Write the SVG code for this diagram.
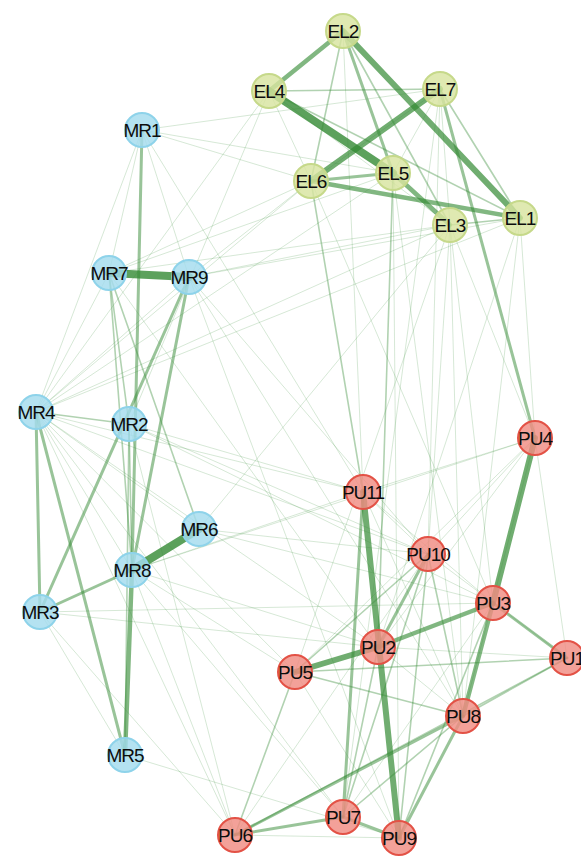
<svg xmlns="http://www.w3.org/2000/svg" width="581" height="858" viewBox="0 0 581 858">
  <style>
    .bg { fill: #ffffff; }
    #edges line { stroke: #338a33; stroke-linecap: round; fill: none; }
    .w1 { stroke-width: 1; stroke-opacity: 0.2; }
    .w2 { stroke-width: 1.6; stroke-opacity: 0.38; }
    .w3 { stroke-width: 3; stroke-opacity: 0.5; }
    .w4 { stroke-width: 4.5; stroke-opacity: 0.62; }
    .w5 { stroke-width: 6; stroke-opacity: 0.7; }
    .w6 { stroke-width: 8; stroke-opacity: 0.8; }
    .node circle { stroke-width: 2; fill-opacity: 0.82; }
    .mr circle { fill: #a4dcee; stroke: #8ed3ea; }
    .el circle { fill: #d8e4a0; stroke: #c6d98a; }
    .pu circle { fill: #f08c82; stroke: #e35246; }
    .node text { font-family: "Liberation Sans", Arial, sans-serif; font-size: 19px; letter-spacing: -1px; fill: #0d0d0d; text-anchor: middle; }
  </style>
  <rect class="bg" x="0" y="0" width="581" height="858"/>

  <g id="edges">
    <!-- faint cross-group links -->
    <line class="w1" x1="142" y1="130" x2="440" y2="89"/>
    <line class="w1" x1="142" y1="130" x2="311" y2="181"/>
    <line class="w1" x1="142" y1="130" x2="393" y2="173"/>
    <line class="w1" x1="142" y1="130" x2="363" y2="492"/>
    <line class="w1" x1="36" y1="412" x2="269" y2="91"/>
    <line class="w1" x1="36" y1="412" x2="311" y2="181"/>
    <line class="w1" x1="36" y1="412" x2="393" y2="173"/>
    <line class="w1" x1="36" y1="412" x2="450" y2="225"/>
    <line class="w1" x1="36" y1="412" x2="520" y2="218"/>
    <line class="w1" x1="36" y1="412" x2="363" y2="492"/>
    <line class="w1" x1="36" y1="412" x2="428" y2="554"/>
    <line class="w1" x1="36" y1="412" x2="378" y2="647"/>
    <line class="w1" x1="36" y1="412" x2="295" y2="672"/>
    <line class="w1" x1="36" y1="412" x2="235" y2="835"/>
    <line class="w1" x1="36" y1="412" x2="343" y2="817"/>
    <line class="w1" x1="36" y1="412" x2="199" y2="529"/>
    <line class="w1" x1="36" y1="412" x2="132" y2="570"/>
    <line class="w1" x1="36" y1="412" x2="109" y2="273"/>
    <line class="w1" x1="36" y1="412" x2="189" y2="277"/>
    <line class="w1" x1="36" y1="412" x2="142" y2="130"/>
    <line class="w1" x1="109" y1="273" x2="311" y2="181"/>
    <line class="w1" x1="109" y1="273" x2="393" y2="173"/>
    <line class="w1" x1="109" y1="273" x2="450" y2="225"/>
    <line class="w1" x1="109" y1="273" x2="378" y2="647"/>
    <line class="w1" x1="189" y1="277" x2="450" y2="225"/>
    <line class="w1" x1="189" y1="277" x2="520" y2="218"/>
    <line class="w1" x1="189" y1="277" x2="311" y2="181"/>
    <line class="w1" x1="189" y1="277" x2="463" y2="716"/>
    <line class="w1" x1="189" y1="277" x2="399" y2="838"/>
    <line class="w1" x1="189" y1="277" x2="428" y2="554"/>
    <line class="w1" x1="129" y1="424" x2="363" y2="492"/>
    <line class="w1" x1="129" y1="424" x2="428" y2="554"/>
    <line class="w1" x1="129" y1="424" x2="493" y2="603"/>
    <line class="w1" x1="129" y1="424" x2="269" y2="91"/>
    <line class="w1" x1="129" y1="424" x2="235" y2="835"/>
    <line class="w1" x1="199" y1="529" x2="428" y2="554"/>
    <line class="w1" x1="199" y1="529" x2="493" y2="603"/>
    <line class="w1" x1="199" y1="529" x2="450" y2="225"/>
    <line class="w1" x1="132" y1="570" x2="363" y2="492"/>
    <line class="w1" x1="132" y1="570" x2="378" y2="647"/>
    <line class="w1" x1="132" y1="570" x2="295" y2="672"/>
    <line class="w1" x1="132" y1="570" x2="343" y2="817"/>
    <line class="w1" x1="132" y1="570" x2="235" y2="835"/>
    <line class="w1" x1="132" y1="570" x2="535" y2="438"/>
    <line class="w1" x1="40" y1="612" x2="378" y2="647"/>
    <line class="w1" x1="40" y1="612" x2="493" y2="603"/>
    <line class="w1" x1="40" y1="612" x2="235" y2="835"/>
    <line class="w1" x1="125" y1="755" x2="40" y2="612"/>
    <line class="w1" x1="125" y1="755" x2="399" y2="838"/>
    <line class="w1" x1="450" y1="225" x2="428" y2="554"/>
    <line class="w1" x1="450" y1="225" x2="493" y2="603"/>
    <line class="w1" x1="450" y1="225" x2="463" y2="716"/>
    <line class="w1" x1="450" y1="225" x2="295" y2="672"/>
    <line class="w1" x1="450" y1="225" x2="535" y2="438"/>
    <line class="w1" x1="520" y1="218" x2="463" y2="716"/>
    <line class="w1" x1="520" y1="218" x2="378" y2="647"/>
    <line class="w1" x1="520" y1="218" x2="535" y2="438"/>
    <line class="w1" x1="440" y1="89" x2="428" y2="554"/>
    <line class="w1" x1="440" y1="89" x2="311" y2="181"/>
    <line class="w1" x1="440" y1="89" x2="343" y2="817"/>
    <line class="w1" x1="343" y1="31" x2="363" y2="492"/>
    <line class="w1" x1="393" y1="173" x2="463" y2="716"/>
    <line class="w1" x1="393" y1="173" x2="399" y2="838"/>
    <line class="w1" x1="311" y1="181" x2="493" y2="603"/>
    <line class="w1" x1="269" y1="91" x2="311" y2="181"/>
    <line class="w1" x1="269" y1="91" x2="450" y2="225"/>
    <line class="w1" x1="393" y1="173" x2="440" y2="89"/>
    <line class="w1" x1="440" y1="89" x2="450" y2="225"/>

    <!-- faint links inside PU -->
    <line class="w1" x1="363" y1="492" x2="428" y2="554"/>
    <line class="w1" x1="363" y1="492" x2="493" y2="603"/>
    <line class="w1" x1="363" y1="492" x2="463" y2="716"/>
    <line class="w1" x1="363" y1="492" x2="535" y2="438"/>
    <line class="w1" x1="535" y1="438" x2="428" y2="554"/>
    <line class="w1" x1="535" y1="438" x2="378" y2="647"/>
    <line class="w1" x1="535" y1="438" x2="463" y2="716"/>
    <line class="w1" x1="535" y1="438" x2="567" y2="658"/>
    <line class="w1" x1="535" y1="438" x2="295" y2="672"/>
    <line class="w1" x1="493" y1="603" x2="343" y2="817"/>
    <line class="w1" x1="295" y1="672" x2="399" y2="838"/>
    <line class="w1" x1="235" y1="835" x2="399" y2="838"/>
    <line class="w1" x1="378" y1="647" x2="463" y2="716"/>
    <line class="w1" x1="378" y1="647" x2="567" y2="658"/>
    <line class="w1" x1="428" y1="554" x2="567" y2="658"/>
    <line class="w1" x1="235" y1="835" x2="428" y2="554"/>

    <!-- EL group -->
    <line class="w2" x1="269" y1="91" x2="440" y2="89"/>
    <line class="w2" x1="269" y1="91" x2="520" y2="218"/>
    <line class="w2" x1="343" y1="31" x2="450" y2="225"/>
    <line class="w2" x1="343" y1="31" x2="311" y2="181"/>
    <line class="w2" x1="440" y1="89" x2="520" y2="218"/>
    <line class="w2" x1="450" y1="225" x2="520" y2="218"/>
    <line class="w3" x1="343" y1="31" x2="393" y2="173"/>
    <line class="w3" x1="311" y1="181" x2="393" y2="173"/>
    <line class="w4" x1="311" y1="181" x2="520" y2="218"/>
    <line class="w4" x1="393" y1="173" x2="450" y2="225"/>
    <line class="w4" x1="343" y1="31" x2="269" y2="91"/>
    <line class="w5" x1="343" y1="31" x2="520" y2="218"/>
    <line class="w5" x1="440" y1="89" x2="311" y2="181"/>
    <line class="w6" x1="269" y1="91" x2="393" y2="173"/>

    <!-- EL to PU -->
    <line class="w3" x1="440" y1="89" x2="535" y2="438"/>
    <line class="w2" x1="311" y1="181" x2="363" y2="492"/>
    <line class="w2" x1="393" y1="173" x2="378" y2="647"/>

    <!-- MR group -->
    <line class="w1" x1="142" y1="130" x2="109" y2="273"/>
    <line class="w1" x1="142" y1="130" x2="189" y2="277"/>
    <line class="w3" x1="142" y1="130" x2="132" y2="570"/>
    <line class="w2" x1="109" y1="273" x2="132" y2="570"/>
    <line class="w2" x1="109" y1="273" x2="199" y2="529"/>
    <line class="w2" x1="109" y1="273" x2="129" y2="424"/>
    <line class="w3" x1="189" y1="277" x2="40" y2="612"/>
    <line class="w3" x1="189" y1="277" x2="132" y2="570"/>
    <line class="w2" x1="36" y1="412" x2="129" y2="424"/>
    <line class="w3" x1="36" y1="412" x2="40" y2="612"/>
    <line class="w3" x1="36" y1="412" x2="125" y2="755"/>
    <line class="w2" x1="129" y1="424" x2="132" y2="570"/>
    <line class="w2" x1="129" y1="424" x2="125" y2="755"/>
    <line class="w3" x1="132" y1="570" x2="40" y2="612"/>
    <line class="w4" x1="132" y1="570" x2="125" y2="755"/>
    <line class="w6" x1="109" y1="273" x2="189" y2="277"/>
    <line class="w6" x1="132" y1="570" x2="199" y2="529"/>

    <!-- PU group -->
    <line class="w2" x1="428" y1="554" x2="295" y2="672"/>
    <line class="w2" x1="428" y1="554" x2="399" y2="838"/>
    <line class="w2" x1="428" y1="554" x2="463" y2="716"/>
    <line class="w2" x1="428" y1="554" x2="343" y2="817"/>
    <line class="w3" x1="428" y1="554" x2="378" y2="647"/>
    <line class="w2" x1="463" y1="716" x2="567" y2="658"/>
    <line class="w2" x1="567" y1="658" x2="235" y2="835"/>
    <line class="w2" x1="567" y1="658" x2="295" y2="672"/>
    <line class="w2" x1="295" y1="672" x2="463" y2="716"/>
    <line class="w2" x1="295" y1="672" x2="235" y2="835"/>
    <line class="w2" x1="493" y1="603" x2="399" y2="838"/>
    <line class="w2" x1="378" y1="647" x2="343" y2="817"/>
    <line class="w2" x1="463" y1="716" x2="343" y2="817"/>
    <line class="w3" x1="463" y1="716" x2="235" y2="835"/>
    <line class="w3" x1="463" y1="716" x2="399" y2="838"/>
    <line class="w3" x1="343" y1="817" x2="235" y2="835"/>
    <line class="w3" x1="343" y1="817" x2="399" y2="838"/>
    <line class="w3" x1="363" y1="492" x2="343" y2="817"/>
    <line class="w3" x1="493" y1="603" x2="567" y2="658"/>
    <line class="w4" x1="493" y1="603" x2="463" y2="716"/>
    <line class="w4" x1="493" y1="603" x2="378" y2="647"/>
    <line class="w5" x1="535" y1="438" x2="493" y2="603"/>
    <line class="w5" x1="378" y1="647" x2="295" y2="672"/>
    <line class="w5" x1="363" y1="492" x2="399" y2="838"/>
  </g>

  <!-- MR nodes -->
  <g id="MR1" class="node mr"><circle cx="142" cy="130" r="17"/><text x="142" y="137">MR1</text></g>
  <g id="MR7" class="node mr"><circle cx="109" cy="273" r="17"/><text x="109" y="280">MR7</text></g>
  <g id="MR9" class="node mr"><circle cx="189" cy="277" r="17"/><text x="189" y="284">MR9</text></g>
  <g id="MR4" class="node mr"><circle cx="36" cy="412" r="17"/><text x="36" y="419">MR4</text></g>
  <g id="MR2" class="node mr"><circle cx="129" cy="424" r="17"/><text x="129" y="431">MR2</text></g>
  <g id="MR6" class="node mr"><circle cx="199" cy="529" r="17"/><text x="199" y="536">MR6</text></g>
  <g id="MR8" class="node mr"><circle cx="132" cy="570" r="17"/><text x="132" y="577">MR8</text></g>
  <g id="MR3" class="node mr"><circle cx="40" cy="612" r="17"/><text x="40" y="619">MR3</text></g>
  <g id="MR5" class="node mr"><circle cx="125" cy="755" r="17"/><text x="125" y="762">MR5</text></g>

  <!-- EL nodes -->
  <g id="EL2" class="node el"><circle cx="343" cy="31" r="17"/><text x="343" y="38">EL2</text></g>
  <g id="EL4" class="node el"><circle cx="269" cy="91" r="17"/><text x="269" y="98">EL4</text></g>
  <g id="EL7" class="node el"><circle cx="440" cy="89" r="17"/><text x="440" y="96">EL7</text></g>
  <g id="EL6" class="node el"><circle cx="311" cy="181" r="17"/><text x="311" y="188">EL6</text></g>
  <g id="EL5" class="node el"><circle cx="393" cy="173" r="17"/><text x="393" y="180">EL5</text></g>
  <g id="EL3" class="node el"><circle cx="450" cy="225" r="17"/><text x="450" y="232">EL3</text></g>
  <g id="EL1" class="node el"><circle cx="520" cy="218" r="17"/><text x="520" y="225">EL1</text></g>

  <!-- PU nodes -->
  <g id="PU4" class="node pu"><circle cx="535" cy="438" r="17"/><text x="535" y="445">PU4</text></g>
  <g id="PU11" class="node pu"><circle cx="363" cy="492" r="17"/><text x="363" y="499">PU11</text></g>
  <g id="PU10" class="node pu"><circle cx="428" cy="554" r="17"/><text x="428" y="561">PU10</text></g>
  <g id="PU3" class="node pu"><circle cx="493" cy="603" r="17"/><text x="493" y="610">PU3</text></g>
  <g id="PU2" class="node pu"><circle cx="378" cy="647" r="17"/><text x="378" y="654">PU2</text></g>
  <g id="PU1" class="node pu"><circle cx="567" cy="658" r="17"/><text x="567" y="665">PU1</text></g>
  <g id="PU5" class="node pu"><circle cx="295" cy="672" r="17"/><text x="295" y="679">PU5</text></g>
  <g id="PU8" class="node pu"><circle cx="463" cy="716" r="17"/><text x="463" y="723">PU8</text></g>
  <g id="PU7" class="node pu"><circle cx="343" cy="817" r="17"/><text x="343" y="824">PU7</text></g>
  <g id="PU6" class="node pu"><circle cx="235" cy="835" r="17"/><text x="235" y="842">PU6</text></g>
  <g id="PU9" class="node pu"><circle cx="399" cy="838" r="17"/><text x="399" y="845">PU9</text></g>
</svg>
